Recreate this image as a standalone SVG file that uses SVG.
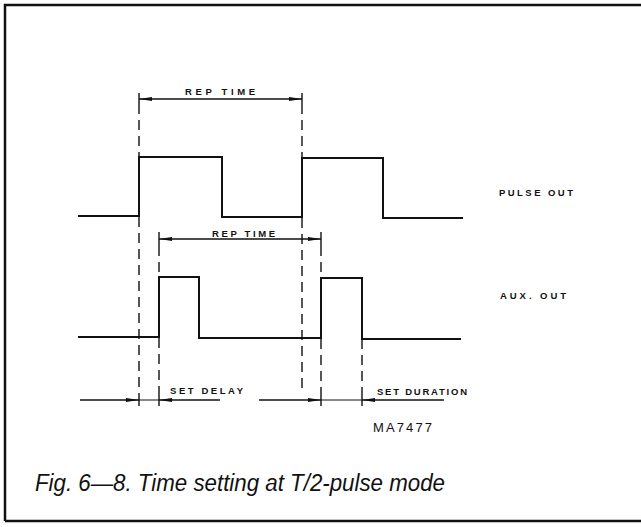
<svg xmlns="http://www.w3.org/2000/svg" width="641" height="527" viewBox="0 0 641 527">
<style>
.bg{fill:#fff}
.frame{fill:none;stroke:#111;stroke-width:2.5}
.wave{fill:none;stroke:#111;stroke-width:2;stroke-linejoin:miter}
.dash{fill:none;stroke:#111;stroke-width:1.4;stroke-dasharray:10 6}
.dim{fill:none;stroke:#111;stroke-width:1.5}
.thin{fill:none;stroke:#111;stroke-width:1}
.tick{fill:none;stroke:#111;stroke-width:1.4}
.lbl{font-family:"Liberation Sans","DejaVu Sans",sans-serif;font-size:9.5px;font-weight:bold;fill:#111}
.code{font-family:"Liberation Sans","DejaVu Sans",sans-serif;font-size:13px;fill:#111}
.cap{font-family:"Liberation Sans","DejaVu Sans",sans-serif;font-size:23px;font-style:italic;fill:#111}
</style>
<defs>
<marker id="ah" viewBox="0 0 13 5" refX="13" refY="2.5" markerUnits="userSpaceOnUse" markerWidth="13" markerHeight="5" orient="auto-start-reverse">
<path d="M0,0.5 L13,2.5 L0,4.5 Z" fill="#111"/>
</marker>
</defs>
<rect class="bg" x="0" y="0" width="641" height="527"/>
<g id="frame">
<path class="frame" d="M5,521 L5,5 L641,5 M5,521 L641,521"/>
</g>
<g id="pulse-out">
<path class="wave" d="M78,216 L139,216 L139,157 L222,157 L222,217 L302,217 L302,158 L383,158 L383,218 L463,218"/>
<text class="lbl" x="499" y="196" textLength="74">PULSE OUT</text>
</g>
<g id="aux-out">
<path class="wave" d="M78,337 L159,337 L159,277 L199,277 L199,338 L321,338 L321,278 L362,278 L362,339 L461,339"/>
<text class="lbl" x="500" y="299" textLength="66">AUX. OUT</text>
</g>
<g id="connectors">
<path class="dash" d="M139,104 L139,157 M139,217 L139,393"/>
<path class="dash" d="M302,104 L302,158 M302,218 L302,393"/>
<path class="dash" d="M159,246 L159,277 M159,338 L159,393"/>
<path class="dash" d="M321,246 L321,278 M321,339 L321,393"/>
<path class="dash" d="M362,339 L362,393"/>
<path class="tick" d="M139,93 L139,104 M302,93 L302,104 M159,232 L159,246 M321,232 L321,246 M139,393 L139,406 M159,393 L159,406 M321,393 L321,406 M362,393 L362,406"/>
<line class="dim" x1="139" y1="99" x2="302" y2="99" marker-start="url(#ah)" marker-end="url(#ah)"/>
<line class="dim" x1="159" y1="239" x2="321" y2="239" marker-start="url(#ah)" marker-end="url(#ah)"/>
<line class="dim" x1="80" y1="400" x2="139" y2="400" marker-end="url(#ah)"/>
<line class="thin" x1="139" y1="400" x2="159" y2="400"/>
<line class="dim" x1="159" y1="400" x2="220" y2="400" marker-start="url(#ah)"/>
<line class="dim" x1="259" y1="400" x2="321" y2="400" marker-end="url(#ah)"/>
<line class="thin" x1="321" y1="400" x2="362" y2="400"/>
<line class="dim" x1="362" y1="400" x2="444" y2="400" marker-start="url(#ah)"/>
</g>
<g id="labels">
<text class="lbl" x="185" y="94.5" textLength="70">REP TIME</text>
<text class="lbl" x="212" y="237" textLength="63">REP TIME</text>
<text class="lbl" x="170" y="394" textLength="73">SET DELAY</text>
<text class="lbl" x="377" y="395" textLength="90">SET DURATION</text>
<text class="code" x="373" y="432" textLength="59">MA7477</text>
<text class="cap" x="35" y="491" textLength="410" lengthAdjust="spacingAndGlyphs">Fig. 6—8. Time setting at T/2-pulse mode</text>
</g>
</svg>
